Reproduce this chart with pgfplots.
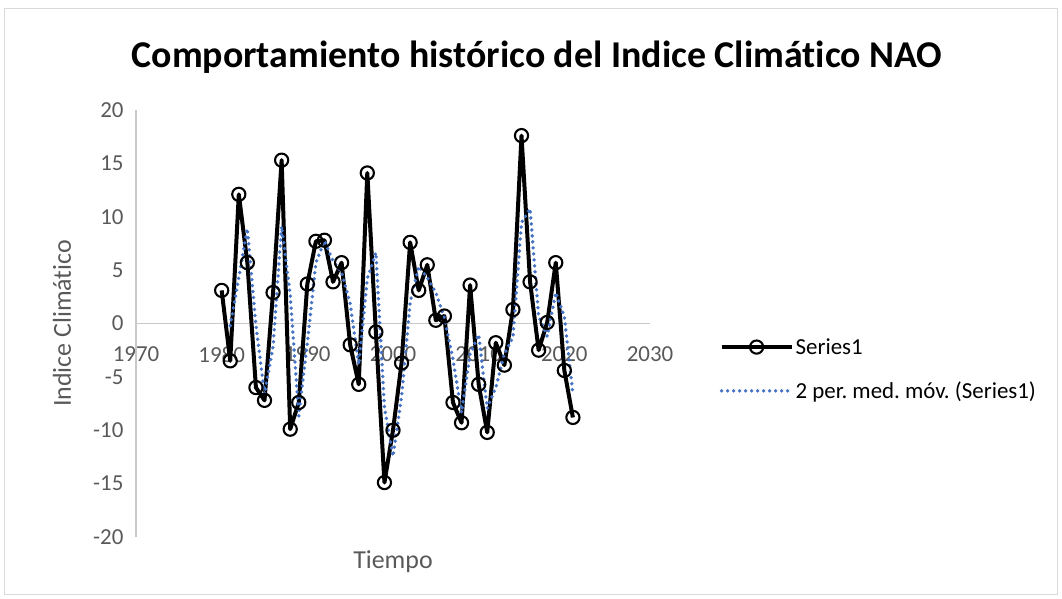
\documentclass[border=0pt]{standalone}
\usepackage{pgfplots}
\usepackage{pgfplotstable}
\pgfplotsset{compat=1.18}
\usepackage{fontspec}
\setmainfont{Carlito}[Ligatures={NoCommon}]
\frenchspacing
\definecolor{axgray}{HTML}{C8C8C8}
\definecolor{framegray}{HTML}{D9D9D9}
\definecolor{txtgray}{HTML}{595959}
\definecolor{trendblue}{HTML}{4472C4}
\pgfplotsset{
  legmark/.style={legend image code/.code={\draw[##1, mark repeat=2, mark phase=2] plot coordinates {(0bp,0bp) (35bp,0bp) (70bp,0bp)};}},
  legline/.style={legend image code/.code={\draw[##1] (0bp,0bp) -- (70bp,0bp);}},
}
\pgfplotstableread{
year val
1980 3.1
1981 -3.5
1982 12.1
1983 5.7
1984 -6.0
1985 -7.2
1986 2.9
1987 15.3
1988 -9.9
1989 -7.4
1990 3.7
1991 7.7
1992 7.8
1993 3.9
1994 5.7
1995 -2.0
1996 -5.7
1997 14.1
1998 -0.8
1999 -14.9
2000 -10.0
2001 -3.7
2002 7.6
2003 3.1
2004 5.5
2005 0.3
2006 0.7
2007 -7.4
2008 -9.3
2009 3.6
2010 -5.7
2011 -10.2
2012 -1.8
2013 -3.9
2014 1.3
2015 17.6
2016 3.9
2017 -2.5
2018 0.1
2019 5.7
2020 -4.4
2021 -8.8
}\seriesone
\pgfplotstableread{
year ma
1981 -0.2
1982 4.3
1983 8.9
1984 -0.15
1985 -6.6
1986 -2.15
1987 9.1
1988 2.7
1989 -8.65
1990 -1.85
1991 5.7
1992 7.75
1993 5.85
1994 4.8
1995 1.85
1996 -3.85
1997 4.2
1998 6.65
1999 -7.85
2000 -12.45
2001 -6.85
2002 1.95
2003 5.35
2004 4.3
2005 2.9
2006 0.5
2007 -3.35
2008 -8.35
2009 -2.85
2010 -1.05
2011 -7.95
2012 -6.0
2013 -2.85
2014 -1.3
2015 9.45
2016 10.75
2017 0.7
2018 -1.2
2019 2.9
2020 0.65
2021 -6.6
}\movavg
\begin{document}
\begin{tikzpicture}
\path[use as bounding box] (0,0) rectangle (1062bp,599bp);
\draw[color=framegray, line width=1.2bp] (4.5bp,4.5bp) rectangle (1057.5bp,590.5bp);
\node[font=\fontsize{38}{42}\selectfont\bfseries] at (537bp,542bp) {Comportamiento histórico del Indice Climático NAO};
\begin{axis}[
  at={(136bp,62bp)}, anchor=south west,
  scale only axis, width=514bp, height=427bp,
  xmin=1970, xmax=2030, ymin=-20, ymax=20,
  axis x line=middle, axis y line=left,
  axis line style={-, color=axgray, line width=1.3bp},
  xtick={1970,1980,...,2030}, ytick={-20,-15,...,20},
  major tick length=0pt,
  hide obscured x ticks=false, hide obscured y ticks=false,
  ticklabel style={font=\fontsize{23}{27}\selectfont, text=txtgray},
  /pgf/number format/assume math mode=true,
  /pgf/number format/1000 sep={},
  xticklabel style={anchor=north, yshift=-20bp},
  yticklabel style={anchor=east, xshift=-9bp},
  xlabel={Tiempo}, ylabel={Indice Climático},
  xlabel style={at={(axis description cs:0.5,-0.058)}, anchor=center, font=\fontsize{26}{30}\selectfont, text=txtgray},
  ylabel style={at={(axis description cs:-0.144,0.5)}, anchor=center, font=\fontsize{26}{30}\selectfont, text=txtgray},
  clip=false,
  legend cell align=left,
  legend style={at={(axis description cs:1.135,0.393)}, anchor=west, draw=none, fill=none,
    font=\fontsize{23}{27}\selectfont, row sep=22bp, inner xsep=0pt},
]
\addplot[black, line width=4bp, line join=round, mark=o, mark size=6.6bp, mark options={line width=2.1bp, black}, legmark]
  table[x=year, y=val] {\seriesone};
\addlegendentry{Series1}
\addplot[trendblue, line width=3.8bp, line join=round, dash pattern=on 0bp off 6bp, line cap=round, no marks, legline]
  table[x=year, y=ma] {\movavg};
\addlegendentry{2 per. med. móv. (Series1)}
\end{axis}
\end{tikzpicture}
\end{document}
